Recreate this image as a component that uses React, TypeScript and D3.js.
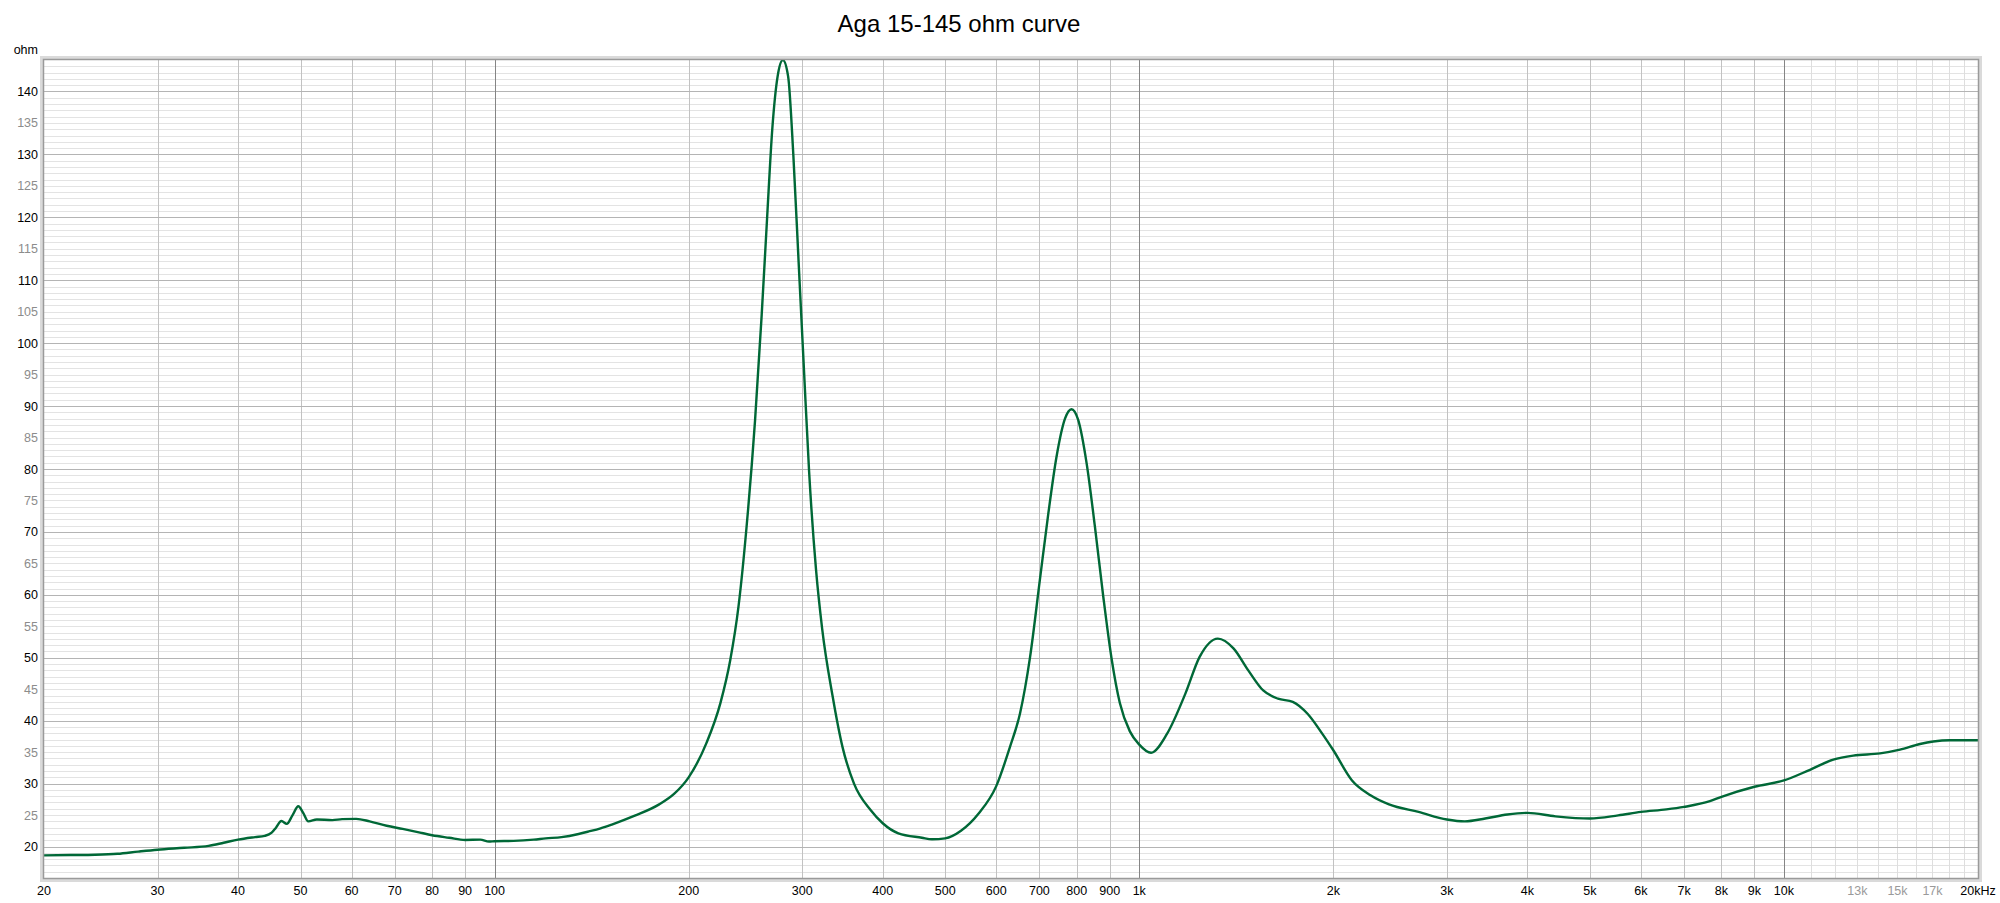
import React from "react";
import * as d3 from "d3";

const TITLE = "Aga 15-145 ohm curve";
const Y_UNIT = "ohm";

// Impedance curve samples (Hz, ohm)
const freqs = [
  20, 22, 24, 26, 28, 30, 33, 36, 38, 40, 42.5, 44, 45.1, 45.8, 46.7, 47.6, 48.6, 49.6, 50.5, 51.4,
  53, 56, 58, 61, 64, 68, 72, 76, 80, 85, 90, 95, 98, 100, 107, 115, 120, 127, 135, 140,
  146, 152, 165, 180, 190, 200, 213, 224, 232, 239, 246, 253.5, 259.6, 264.6, 269.6, 274.8, 280, 285.3, 290.7, 296.2,
  301.8, 307.5, 315.2, 322.2, 334.3, 346.5, 361, 383, 400, 423, 460, 477, 500, 529, 563, 600, 630, 653, 677, 701,
  722.6, 744, 767, 785, 804, 828.6, 853.6, 879.4, 906, 933, 967, 1000, 1043, 1104, 1179, 1240, 1324, 1400, 1476, 1557,
  1641, 1730, 1824, 1922, 2000, 2138, 2284, 2440, 2712, 3000, 3198, 3440, 3724, 4000, 4421, 5000, 5533, 6000, 6572, 7000,
  7676, 8000, 9000, 10000, 10976, 11928, 12808, 14092, 15136, 16256, 17046, 18088, 20000,
];
const ohms = [
  18.6, 18.65, 18.7, 18.85, 19.2, 19.5, 19.8, 20.1, 20.6, 21.1, 21.5, 21.7, 22.2, 23.0, 24.05, 23.6, 25.0, 26.4, 25.3, 24.0,
  24.3, 24.2, 24.35, 24.4, 24.0, 23.3, 22.8, 22.3, 21.8, 21.4, 21.05, 21.1, 20.8, 20.85, 20.9, 21.1, 21.3, 21.5, 22.0, 22.4,
  22.9, 23.5, 24.9, 26.7, 28.4, 31.0, 36.4, 42.8, 49.6, 58.2, 70.9, 87.7, 104.5, 119.7, 134.0, 142.4, 145.0, 142.4, 129.8, 112.9,
  96.1, 79.6, 64.0, 54.6, 44.0, 35.8, 30.0, 25.8, 23.7, 22.1, 21.4, 21.15, 21.3, 22.5, 25.2, 29.6, 35.8, 41.1, 50.1, 62.3,
  72.9, 81.9, 88.0, 89.5, 87.8, 80.9, 70.8, 59.7, 49.8, 42.8, 38.3, 36.2, 34.9, 37.9, 44.3, 50.1, 53.05, 51.5, 48.0, 44.8,
  43.5, 43.0, 41.1, 37.95, 35.3, 30.5, 28.15, 26.7, 25.5, 24.3, 24.0, 24.45, 25.1, 25.35, 24.8, 24.45, 24.95, 25.5, 25.9, 26.3,
  27.2, 27.9, 29.5, 30.5, 32.2, 33.8, 34.45, 34.8, 35.4, 36.3, 36.7, 36.9, 36.9,
];

// Axis ticks
const xMainGrid = [30, 40, 50, 60, 70, 80, 90, 200, 300, 400, 500, 600, 700, 800, 900, 2000, 3000, 4000, 5000, 6000, 7000, 8000, 9000];
const xDecadeGrid = [100, 1000, 10000];
const xFineGrid = [11000, 12000, 13000, 14000, 15000, 16000, 17000, 18000, 19000];
const xLabelVals = [20, 30, 40, 50, 60, 70, 80, 90, 100, 200, 300, 400, 500, 600, 700, 800, 900, 1000, 2000, 3000, 4000, 5000, 6000, 7000, 8000, 9000, 10000, 13000, 15000, 17000, 20000];
const xLabelText = ["20", "30", "40", "50", "60", "70", "80", "90", "100", "200", "300", "400", "500", "600", "700", "800", "900", "1k", "2k", "3k", "4k", "5k", "6k", "7k", "8k", "9k", "10k", "13k", "15k", "17k", "20kHz"];
const xLabelGrey = [13000, 15000, 17000];
const yLabelVals = [20, 25, 30, 35, 40, 45, 50, 55, 60, 65, 70, 75, 80, 85, 90, 95, 100, 105, 110, 115, 120, 125, 130, 135, 140];

const L = 44, R = 1978, T = 60, B = 878;

export default function App() {
  const x = d3.scaleLog().domain([20, 20000]).range([L, R]);
  const y = d3.scaleLinear().domain([15, 145]).range([B, T]);
  const pts: [number, number][] = freqs.map((f, i) => [f, ohms[i]]);
  const line = d3
    .line<[number, number]>()
    .x((d) => x(d[0]))
    .y((d) => y(d[1]))
    .curve(d3.curveMonotoneX);
  const minorY = d3.range(16, 145, 1).filter((v) => v % 10 !== 0);
  const majorY = d3.range(20, 145, 10);
  const font = "'Liberation Sans', Arial, sans-serif";
  return (
    <svg width={2000} height={903} style={{ position: "absolute", left: 0, top: 0, background: "#fff" }} fontFamily={font}>
      <defs>
        <clipPath id="plot">
          <rect x={L} y={T - 2} width={R - L} height={B - T + 2} />
        </clipPath>
      </defs>
      <text x={959} y={31.5} fontSize={24} textAnchor="middle" fill="#000">{TITLE}</text>
      <text x={38} y={54} fontSize={12.5} textAnchor="end" fill="#000">{Y_UNIT}</text>
      <rect x={L} y={T} width={R - L} height={B - T} fill="#fff" />
      {minorY.map((v) => (
        <line key={"ym" + v} x1={L} x2={R} y1={Math.round(y(v)) + 0.5} y2={Math.round(y(v)) + 0.5} stroke="#e3e3e3" strokeWidth={1} />
      ))}
      {xFineGrid.map((v) => (
        <line key={"xf" + v} x1={Math.round(x(v)) + 0.5} x2={Math.round(x(v)) + 0.5} y1={T} y2={B} stroke="#dedede" strokeWidth={1} />
      ))}
      {xMainGrid.map((v) => (
        <line key={"xg" + v} x1={Math.round(x(v)) + 0.5} x2={Math.round(x(v)) + 0.5} y1={T} y2={B} stroke="#c2c2c2" strokeWidth={1} />
      ))}
      {majorY.map((v) => (
        <line key={"yM" + v} x1={L} x2={R} y1={Math.round(y(v)) + 0.5} y2={Math.round(y(v)) + 0.5} stroke="#b4b4b4" strokeWidth={1} />
      ))}
      {xDecadeGrid.map((v) => (
        <line key={"xd" + v} x1={Math.round(x(v)) + 0.5} x2={Math.round(x(v)) + 0.5} y1={T} y2={B} stroke="#858585" strokeWidth={1} />
      ))}
      <path d={line(pts) || ""} fill="none" stroke="#006837" strokeWidth={2.4} strokeLinejoin="round" clipPath="url(#plot)" />
      <rect x={L - 2.5} y={T - 2.5} width={R - L + 5} height={B - T + 5} fill="none" stroke="#dadada" strokeWidth={3} />
      <rect x={L - 0.5} y={T - 0.5} width={R - L + 1} height={B - T + 1} fill="none" stroke="#9a9a9a" strokeWidth={1.5} />
      {yLabelVals.map((v) => (
        <text key={"yl" + v} x={38} y={y(v) + 4.5} fontSize={12.5} textAnchor="end" fill={v % 10 === 0 ? "#000" : "#8c8c8c"}>{v}</text>
      ))}
      {xLabelVals.map((v, i) => (
        <text key={"xl" + v} x={x(v)} y={894.5} fontSize={12.5} textAnchor="middle" fill={xLabelGrey.includes(v) ? "#9a9a9a" : "#000"}>{xLabelText[i]}</text>
      ))}
    </svg>
  );
}
